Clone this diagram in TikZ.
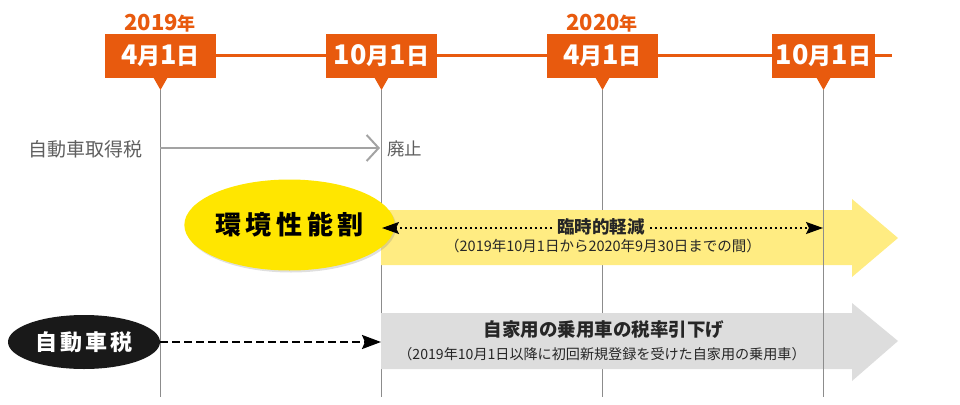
\documentclass[tikz,border=0pt]{standalone}
\usepackage{fontspec}
\setmainfont{Noto Sans CJK JP}
\usetikzlibrary{arrows.meta,positioning,shapes.geometric,shadows}
\definecolor{taxorange}{RGB}{232,90,14}
\definecolor{taxyellow}{RGB}{255,230,0}
\definecolor{taxpale}{RGB}{255,236,130}
\definecolor{taxlight}{RGB}{221,221,221}
\definecolor{taxgray}{RGB}{140,140,140}
\definecolor{taxtext}{RGB}{95,95,95}
\newcommand{\fsz}[1]{\fontsize{#1}{#1}\selectfont}
\newcommand{\dayof}[2]{{\fsz{27}#1}{\fsz{23}月}{\fsz{27}#2}{\fsz{23}日}}

\begin{document}
\begin{tikzpicture}[x=1pt,y=-1pt,
  taxdate/.style={fill=taxorange,text=white,minimum width=111pt,minimum height=44pt,
    inner sep=0pt,font=\bfseries},
  taxyear/.style={text=taxorange,inner sep=0pt,font=\bfseries},
  taxtick/.style={fill=taxorange},
  taxline/.style={draw=taxorange,line width=3pt},
  taxvline/.style={draw=taxgray,line width=1.1pt},
  taxnote/.style={inner sep=0pt,text=black!85,font=\fsz{14.5}},
  taxhead/.style={inner sep=2pt,text=black!85,font=\fsz{18.5}\bfseries},
  taxabol/.style={-{Straight Barb[length=12pt,width=26pt,line width=2pt]},draw=taxgray!80,line width=2pt},
  taxdash/.style={-{Stealth[length=19pt,width=14pt,inset=3pt]},line width=2.2pt,dash pattern=on 8pt off 4pt},
  taxdot/.style={{Stealth[length=17pt,width=12pt,inset=3pt]}-{Stealth[length=17pt,width=12pt,inset=3pt]},
    line width=2pt,dash pattern=on 2pt off 3pt}
]
  \useasboundingbox (0,0) rectangle (960,404);

  % Dates on the time line
  \foreach \n/\x/\w/\m/\d in {1/160.5/111/4/1, 2/381.5/111/10/1, 3/602.5/111/4/1, 4/823.5/103/10/1} {
    \node[taxdate,minimum width=\w pt] (d\n) at (\x,56) {\dayof{\m}{\d}};
    \coordinate (t\n) at (\x,90);
    \coordinate (b\n) at (\x,397);
    \fill[taxtick] ([xshift=-7pt,yshift=0.5pt]d\n.south) -- (t\n) -- ([xshift=7pt,yshift=0.5pt]d\n.south) -- cycle;
  }
  \coordinate (tend) at (892,56);
  \draw[taxline] (d1.east) -- (d2.west) (d2.east) -- (d3.west) (d3.east) -- (d4.west) (d4.east) -- (tend);

  % Years
  \node[taxyear] (y1) at (160,23) {{\fsz{22}2019}{\fsz{18}年}};
  \node[taxyear] (y2) at (602,23) {{\fsz{22}2020}{\fsz{18}年}};

  % Vertical lines
  \foreach \n in {1,2,3} \draw[taxvline] (t\n) -- (b\n);

  % Acquisition tax
  \node[inner sep=0pt,text=taxtext,font=\fsz{19}] (acq) at (85,149) {自動車取得税};
  \coordinate (acqs) at (160,148);
  \coordinate (acqe) at (380,148);
  \node[inner sep=0pt,anchor=west,text=taxtext,font=\fsz{17.5}] (abol) at (387,149) {廃止};
  \draw[taxabol] (acqs) -- (acqe);

  % Environmental performance tax
  \fill[taxpale] (381,210) -- (852,210) -- (852,199) -- (898,238) -- (852,277) -- (852,265) -- (381,265) -- cycle;
  \node[ellipse,fill=taxyellow,minimum width=183pt,minimum height=91pt,inner sep=0pt,
    drop shadow={shadow xshift=1.5pt,shadow yshift=-2pt,opacity=0.25},
    font=\fsz{26}\bfseries\addfontfeatures{LetterSpace=18}] (env) at (289.5,225) {環境性能割};
  \coordinate (rs) at (382,228);
  \coordinate (re) at (823,228);
  \draw[taxdot] (rs) -- (re);
  \node[fill=taxpale,inner xsep=5pt,inner ysep=1pt,text=black!85,font=\fsz{17.5}\bfseries] (relief) at (601,227) {臨時的軽減};
  \node[taxnote] (reliefnote) at (603,246) {（2019年10月1日から2020年9月30日までの間）};

  % Automobile tax
  \fill[taxlight] (381,313) -- (852,313) -- (852,303) -- (898,341) -- (852,381) -- (852,369) -- (381,369) -- cycle;
  \node[ellipse,fill=black!90,text=white,minimum width=152pt,minimum height=54pt,inner sep=0pt,
    font=\fsz{22}\bfseries\addfontfeatures{LetterSpace=14}] (car) at (84,342) {自動車税};
  \coordinate (ce) at (381,342);
  \draw[taxdash] (car.east) -- (ce);
  \node[taxhead] (ratecut) at (604,330) {自家用の乗用車の税率引下げ};
  \node[taxnote,font=\fsz{14.1}] (ratenote) at (602,354) {（2019年10月1日以降に初回新規登録を受けた自家用の乗用車）};

  % Last vertical line over the arrows
  \draw[taxvline] (t4) -- (b4);
\end{tikzpicture}
\end{document}
